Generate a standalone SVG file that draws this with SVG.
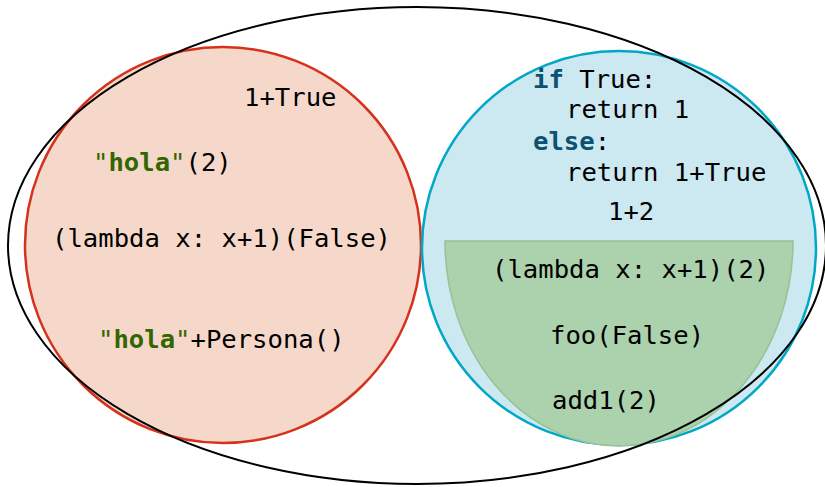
<svg xmlns="http://www.w3.org/2000/svg" width="825" height="487" viewBox="0 0 825 487">
<style>
text{font-family:"DejaVu Sans Mono","Liberation Mono",monospace;font-size:25.6px;fill:#000}
.kw{font-weight:bold;fill:#0b5272}
.str{fill:#336600}
.b{font-weight:bold}
</style>
<rect width="825" height="487" fill="#fff"/>
<g id="errors">
<circle cx="223" cy="245" r="198" fill="#f6d8cb" stroke="#d4321c" stroke-width="2.5"/>
</g>
<g id="valid">
<circle cx="619" cy="248" r="197" fill="#cce8f1" stroke="#00a8c6" stroke-width="2.5"/>
</g>
<g id="typed">
<path d="M445,241 L793,241 A174,205 0 0 1 445,241 Z" fill="#abd1ad" stroke="#94c394" stroke-width="1.5"/>
</g>
<g id="all">
<ellipse cx="417" cy="245.5" rx="409" ry="238.5" fill="none" stroke="#000" stroke-width="2"/>
</g>
<g id="error-texts">
<text x="244" y="106">1+True</text>
<text x="93" y="171"><tspan class="str">"</tspan><tspan class="str b">hola</tspan><tspan class="str">"</tspan>(2)</text>
<text x="52" y="247">(lambda x: x+1)(False)</text>
<text x="98" y="348"><tspan class="str">"</tspan><tspan class="str b">hola</tspan><tspan class="str">"</tspan>+Persona()</text>
</g>
<g id="valid-texts">
<text x="533" y="88"><tspan class="kw">if</tspan> True:</text>
<text x="566" y="118">return 1</text>
<text x="533" y="150"><tspan class="kw">else</tspan>:</text>
<text x="566" y="181">return 1+True</text>
<text x="608" y="220">1+2</text>
</g>
<g id="typed-texts">
<text x="492" y="278">(lambda x: x+1)(2)</text>
<text x="550" y="344">foo(False)</text>
<text x="552" y="409">add1(2)</text>
</g>
</svg>
